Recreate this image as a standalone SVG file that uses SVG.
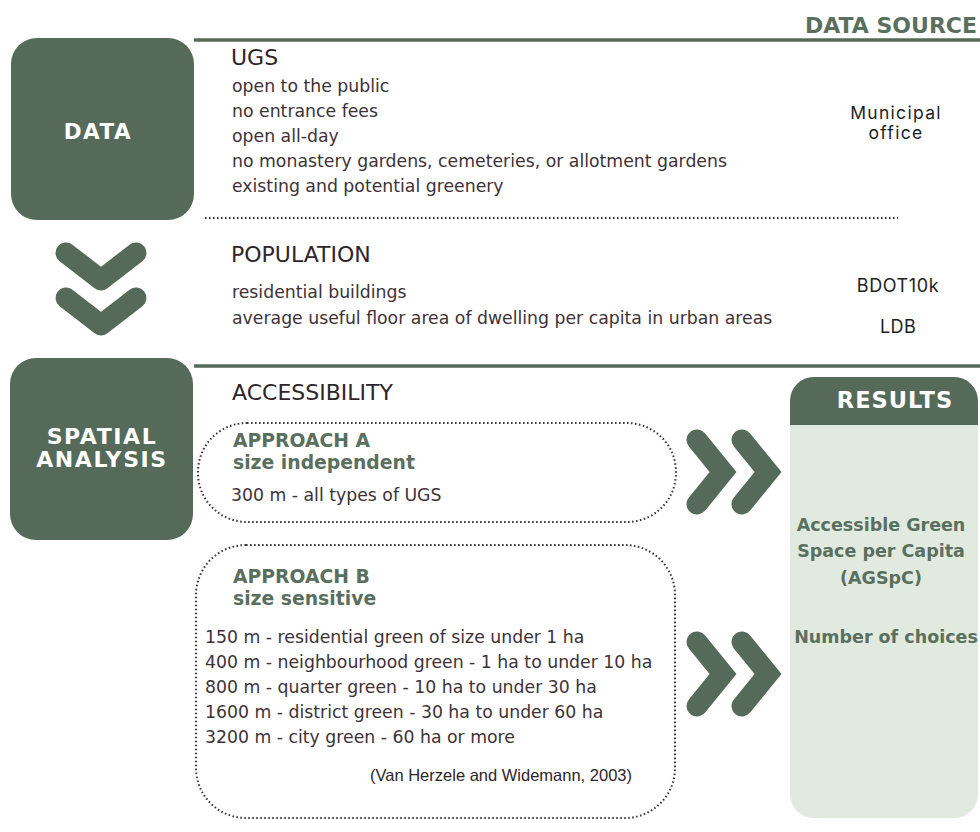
<svg xmlns="http://www.w3.org/2000/svg" width="980" height="832" viewBox="0 0 980 832">
  <style>
    .bg { fill: #ffffff; }
    .block { fill: #556a59; }
    .rule { stroke: #556a59; stroke-width: 3.5; fill: none; }
    .dots { stroke: #3a3a3a; stroke-width: 2; stroke-dasharray: 1.6 2.4; fill: none; }
    .chev { stroke: #556a59; stroke-width: 21; fill: none; stroke-linecap: round; stroke-linejoin: miter; }
    .chev-down { stroke: #556a59; stroke-width: 21; fill: none; stroke-linecap: round; stroke-linejoin: round; }
    .label { font-family: "DejaVu Sans", Verdana, sans-serif; font-weight: bold; fill: #ffffff; }
    .head { font-family: "DejaVu Sans", Verdana, sans-serif; font-size: 22px; fill: #2e2528; }
    .body { font-family: "DejaVu Sans", Verdana, sans-serif; font-size: 17.3px; fill: #3e3238; }
    .src { font-family: Inter, "Noto Sans", sans-serif; fill: #1e1e1e; text-anchor: middle; }
    .green { font-family: "DejaVu Sans", Verdana, sans-serif; font-weight: bold; fill: #5a6f5e; }
  </style>

  <rect class="bg" x="0" y="0" width="980" height="832"/>

  <!-- section rules -->
  <g id="rules">
    <line class="rule" x1="194" y1="40" x2="980" y2="40"/>
    <line class="rule" x1="194" y1="366" x2="980" y2="366"/>
    <line class="dots" x1="205" y1="218" x2="898" y2="218"/>
  </g>

  <text class="green" x="977" y="33" font-size="22" text-anchor="end">DATA SOURCE</text>

  <!-- DATA block -->
  <g id="data">
    <rect class="block" x="11" y="38" width="183" height="182" rx="26"/>
    <text class="label" x="98" y="139" font-size="21.5" text-anchor="middle" letter-spacing="1.5">DATA</text>
  </g>

  <!-- UGS criteria -->
  <g id="ugs">
    <text class="head" x="231" y="65" font-size="21">UGS</text>
    <text class="body" x="232" y="92">open to the public</text>
    <text class="body" x="232" y="117">no entrance fees</text>
    <text class="body" x="232" y="142">open all-day</text>
    <text class="body" x="232" y="167">no monastery gardens, cemeteries, or allotment gardens</text>
    <text class="body" x="232" y="192">existing and potential greenery</text>
    <text class="src" x="896" y="119" font-size="17.5" letter-spacing="1.3">Municipal</text>
    <text class="src" x="896" y="139" font-size="17.5" letter-spacing="1.3">office</text>
  </g>

  <!-- POPULATION -->
  <g id="population">
    <text class="head" x="231" y="262">POPULATION</text>
    <text class="body" x="232" y="298">residential buildings</text>
    <text class="body" x="232" y="324">average useful floor area of dwelling per capita in urban areas</text>
    <text class="src" x="898" y="292" font-size="18" letter-spacing="0.6">BDOT10k</text>
    <text class="src" x="898" y="333" font-size="18" letter-spacing="0.4">LDB</text>
  </g>

  <!-- SPATIAL ANALYSIS block -->
  <g id="spatial-analysis">
    <rect class="block" x="10" y="358" width="183" height="182" rx="26"/>
    <text class="label" x="102" y="444" font-size="22" text-anchor="middle" letter-spacing="1.6">SPATIAL</text>
    <text class="label" x="102" y="467" font-size="22" text-anchor="middle" letter-spacing="1.6">ANALYSIS</text>
  </g>

  <text class="head" x="232" y="400">ACCESSIBILITY</text>

  <!-- Approach A -->
  <g id="approach-a">
    <rect class="dots" x="198" y="423" width="478" height="99" rx="49"/>
    <text class="green" x="233" y="447" font-size="18.8">APPROACH A</text>
    <text class="green" x="233" y="469" font-size="18.8">size independent</text>
    <text class="body" x="231" y="501">300 m - all types of UGS</text>
  </g>

  <!-- Approach B -->
  <g id="approach-b">
    <rect class="dots" x="196" y="545" width="479" height="273" rx="50"/>
    <text class="green" x="233" y="583" font-size="18.8">APPROACH B</text>
    <text class="green" x="233" y="605" font-size="18.8">size sensitive</text>
    <text class="body" x="205" y="643">150 m - residential green of size under 1 ha</text>
    <text class="body" x="205" y="668">400 m - neighbourhood green - 1 ha to under 10 ha</text>
    <text class="body" x="205" y="693">800 m - quarter green - 10 ha to under 30 ha</text>
    <text class="body" x="205" y="718">1600 m - district green - 30 ha to under 60 ha</text>
    <text class="body" x="205" y="743">3200 m - city green - 60 ha or more</text>
    <text x="632" y="781" font-family="Liberation Sans, Arial, sans-serif" font-size="16.5" fill="#2e2528" text-anchor="end">(Van Herzele and Widemann, 2003)</text>
  </g>

  <!-- RESULTS panel -->
  <g id="results">
    <rect x="790" y="377" width="188" height="441" rx="24" fill="#e0eadf"/>
    <path class="block" d="M790,425 V401 A24,24 0 0 1 814,377 H954 A24,24 0 0 1 978,401 V425 Z"/>
    <text class="label" x="895" y="408" font-size="22.5" text-anchor="middle" letter-spacing="1">RESULTS</text>
    <text class="green" x="881" y="531" font-size="17.5" text-anchor="middle">Accessible Green</text>
    <text class="green" x="881" y="557" font-size="17.5" text-anchor="middle">Space per Capita</text>
    <text class="green" x="881" y="584" font-size="17.5" text-anchor="middle">(AGSpC)</text>
    <text class="green" x="886" y="643" font-size="17.5" text-anchor="middle">Number of choices</text>
  </g>

  <!-- flow connectors (chevrons) -->
  <g id="connectors">
    <path class="chev-down" d="M66,253 L101,280 L136,253"/>
    <path class="chev-down" d="M66,298 L101,325 L136,298"/>
    <path class="chev" d="M697,440 L723,472 L697,504"/>
    <path class="chev" d="M742,440 L768,472 L742,504"/>
    <path class="chev" d="M697,642 L723,674 L697,706"/>
    <path class="chev" d="M742,642 L768,674 L742,706"/>
  </g>
</svg>
